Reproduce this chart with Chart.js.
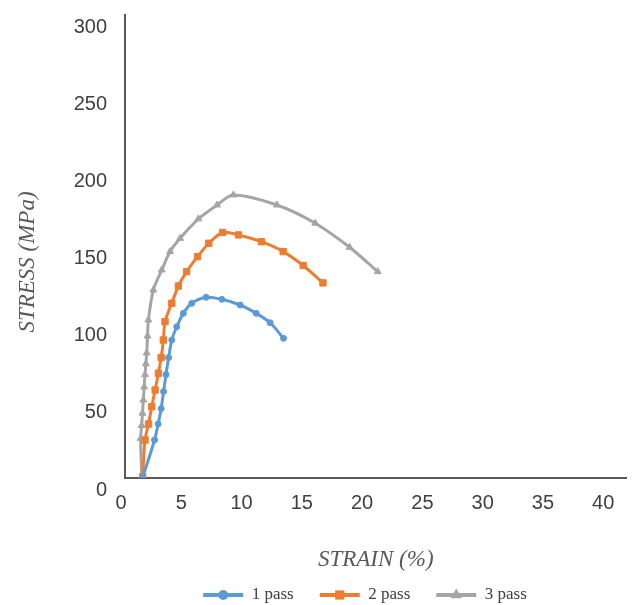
<!DOCTYPE html>
<html>
<head>
<meta charset="utf-8">
<script src="https://cdn.jsdelivr.net/npm/chart.js@4"></script>
<style>
    body {
        margin: 0;
        padding: 0;
        background: #ffffff;
    }
    #wrap {
        width: 632px;
        height: 605px;
    }
</style>
</head>
<body>
<div id="wrap"><canvas id="stressChart" width="632" height="605"></canvas></div>
<script>
// Values: strain in %, stress in MPa
const seriesLabels = ['1 pass', '2 pass', '3 pass'];

const strain1 = [1.45, 2.45, 2.75, 3.0, 3.2, 3.4, 3.62, 3.88, 4.29, 4.84, 5.54, 6.73, 8.03, 9.55, 10.88, 12.04, 13.15];
const stress1 = [0, 24.6, 35, 45, 56, 67, 78, 89.4, 98, 106.7, 113.2, 117.1, 115.8, 112.1, 106.7, 100.6, 90.5];

const strain2 = [1.47, 1.66, 1.95, 2.22, 2.5, 2.77, 3.0, 3.18, 3.32, 3.88, 4.43, 5.11, 6.02, 6.95, 8.1, 9.41, 11.32, 13.12, 14.78, 16.42];
const stress2 = [0.8, 24.6, 35, 46.2, 57, 67.9, 78, 89.4, 101.3, 113.2, 124.4, 133.7, 143.4, 152.1, 159.1, 157.5, 153.1, 146.7, 137.7, 126.4];

const strain3 = [1.39, 1.3, 1.38, 1.45, 1.52, 1.59, 1.66, 1.73, 1.8, 1.87, 1.94, 2.35, 3.05, 3.74, 4.57, 6.09, 7.64, 8.99, 12.6, 15.78, 18.63, 20.96];
const stress3 = [0.6, 25.7, 34, 42, 50.5, 59, 67, 74, 81, 92, 102.4, 121.8, 134.8, 146.7, 155.3, 167.9, 176.9, 183.4, 176.9, 165.1, 149.5, 133.7];

// Axis ranges and tick spacing
const strainMax = 41.6;
const strainStep = 5;
const stressMax = 300;
const stressStep = 50;

function toPoints(xs, ys) {
    return xs.map((x, i) => ({ x: x, y: ys[i] }));
}

// Draws the marker in the middle of each legend line (Excel style)
function drawMarker(ctx, style, r, x, y) {
    ctx.beginPath();
    if (style === 'rect') {
        const s = Math.SQRT1_2 * r;
        ctx.rect(x - s, y - s, 2 * s, 2 * s);
    } else if (style === 'triangle') {
        ctx.moveTo(x, y - r);
        ctx.lineTo(x + r * 0.866, y + r * 0.5);
        ctx.lineTo(x - r * 0.866, y + r * 0.5);
        ctx.closePath();
    } else {
        ctx.arc(x, y, r, 0, Math.PI * 2);
    }
    ctx.fill();
}

const legendMarkerSize = { circle: 5, rect: 6.5, triangle: 6.5 };

const legendMarkers = {
    id: 'legendMarkers',
    afterDraw(chart) {
        const legend = chart.legend;
        if (!legend || !legend.legendHitBoxes) return;
        const ctx = chart.ctx;
        const opts = legend.options.labels;
        legend.legendHitBoxes.forEach((box, i) => {
            const ds = chart.data.datasets[i];
            ctx.save();
            ctx.fillStyle = ds.borderColor;
            drawMarker(ctx, ds.pointStyle, legendMarkerSize[ds.pointStyle], box.left + opts.boxWidth / 2, box.top + opts.font.size / 2);
            ctx.restore();
        });
    }
};

// Legend in the reference sits centred under the plot, a bit right of the page centre
const legendShift = {
    id: 'legendShift',
    afterLayout(chart) {
        if (!chart.legend) return;
        chart.legend.left += 49;
        chart.legend.right += 49;
    }
};

// Vertical axis title, placed where the reference has it
const stressTitle = {
    id: 'stressTitle',
    afterDraw(chart) {
        const ctx = chart.ctx;
        ctx.save();
        ctx.translate(28, 262);
        ctx.rotate(-Math.PI / 2);
        ctx.font = 'italic 23px "Liberation Serif"';
        ctx.fillStyle = '#595959';
        ctx.textAlign = 'center';
        ctx.textBaseline = 'middle';
        ctx.fillText('STRESS (MPa)', 0, 0);
        ctx.restore();
    }
};

const ctx = document.getElementById('stressChart').getContext('2d');
new Chart(ctx, {
    type: 'line',
    data: {
        datasets: [
            {
                label: seriesLabels[0],
                data: toPoints(strain1, stress1),
                borderColor: '#5B9BD5',
                backgroundColor: '#5B9BD5',
                pointBackgroundColor: '#5B9BD5',
                pointBorderColor: '#5B9BD5',
                borderWidth: 3,
                pointStyle: 'circle',
                pointRadius: 3,
                pointBorderWidth: 1,
                tension: 0.3
            },
            {
                label: seriesLabels[1],
                data: toPoints(strain2, stress2),
                borderColor: '#ED7D31',
                backgroundColor: '#ED7D31',
                pointBackgroundColor: '#ED7D31',
                pointBorderColor: '#ED7D31',
                borderWidth: 3,
                pointStyle: 'rect',
                pointRadius: 4.5,
                pointBorderWidth: 1,
                tension: 0.3
            },
            {
                label: seriesLabels[2],
                data: toPoints(strain3, stress3),
                borderColor: '#A5A5A5',
                backgroundColor: '#A5A5A5',
                pointBackgroundColor: '#A5A5A5',
                pointBorderColor: '#A5A5A5',
                borderWidth: 3,
                pointStyle: 'triangle',
                pointRadius: 4,
                pointBorderWidth: 1,
                tension: 0.3
            }
        ]
    },
    options: {
        responsive: false,
        animation: false,
        devicePixelRatio: 1,
        layout: {
            padding: { left: 0, right: 0, top: 15, bottom: 0 }
        },
        plugins: {
            tooltip: { enabled: false },
            legend: {
                display: true,
                position: 'bottom',
                maxHeight: 44.5,
                labels: {
                    boxWidth: 40,
                    boxHeight: 4,
                    padding: 26,
                    color: '#404040',
                    font: { family: '"Liberation Serif"', size: 17 },
                    generateLabels: chart =>
                        Chart.defaults.plugins.legend.labels.generateLabels(chart)
                            .map(item => Object.assign(item, { lineWidth: 0 }))
                }
            }
        },
        scales: {
            x: {
                type: 'linear',
                min: 0,
                max: strainMax,
                grid: { display: false, drawTicks: false },
                border: { display: true, color: '#595959', width: 2 },
                ticks: {
                    stepSize: strainStep,
                    includeBounds: false,
                    padding: 13,
                    labelOffset: -4,
                    maxRotation: 0,
                    color: '#404040',
                    font: { family: '"Liberation Sans"', size: 20 }
                },
                title: {
                    display: true,
                    text: 'STRAIN (%)',
                    color: '#595959',
                    font: { family: '"Liberation Serif"', size: 23, style: 'italic' },
                    padding: { top: 0, bottom: -13.3 }
                },
                afterFit: scale => { scale.height = 82.5; }
            },
            y: {
                type: 'linear',
                min: 0,
                max: stressMax,
                grid: { display: false, drawTicks: true, tickLength: 18 },
                border: { display: true, color: '#595959', width: 2 },
                ticks: {
                    stepSize: stressStep,
                    padding: 0,
                    labelOffset: 12,
                    color: '#404040',
                    font: { family: '"Liberation Sans"', size: 20 }
                },
                afterFit: scale => { scale.width = 125; }
            }
        }
    },
    plugins: [legendShift, legendMarkers, stressTitle]
});
</script>
</body>
</html>
